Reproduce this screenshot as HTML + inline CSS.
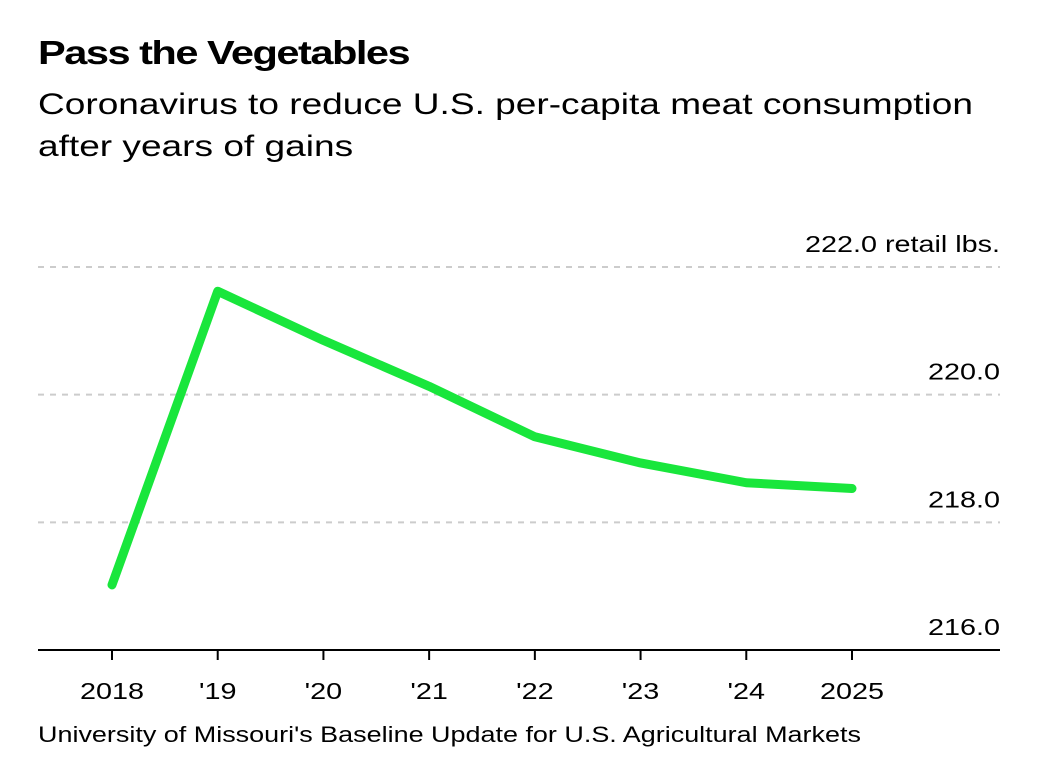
<!DOCTYPE html>
<html><head><meta charset="utf-8">
<style>
html,body{margin:0;padding:0;background:#fff;}
body{width:1049px;height:772px;position:relative;font-family:"Liberation Sans",Arial,sans-serif;color:#000;overflow:hidden;}
.title{position:absolute;left:38px;top:34px;font-size:33px;font-weight:bold;letter-spacing:-1.2px;transform:scaleX(1.26);transform-origin:left top;white-space:nowrap;}
.sub{position:absolute;left:38px;top:84px;font-size:30px;line-height:42px;transform:scaleX(1.235);transform-origin:left top;white-space:nowrap;}
.src{position:absolute;left:38px;top:722px;font-size:22px;transform:scaleX(1.225);transform-origin:left top;white-space:nowrap;}
svg{position:absolute;left:0;top:0;}
</style></head><body>
<div class="title">Pass the Vegetables</div>
<div class="sub">Coronavirus to reduce U.S. per-capita meat consumption<br>after years of gains</div>
<svg id="chart" width="1049" height="772"></svg>
<div class="src">University of Missouri's Baseline Update for U.S. Agricultural Markets</div>
<script>
const years = [2018, 2019, 2020, 2021, 2022, 2023, 2024, 2025];
const xLabels = ["2018", "'19", "'20", "'21", "'22", "'23", "'24", "2025"];
const consumption = [217.02, 221.62, 220.85, 220.13, 219.34, 218.93, 218.62, 218.53];
const yTicks = [216, 218, 220, 222];
const yTickLabels = ["216.0", "218.0", "220.0", "222.0 retail lbs."];

const NS = "http://www.w3.org/2000/svg";
const svg = document.getElementById('chart');
function x(yr){ return 112 + (yr - 2018) * (852 - 112) / 7; }
function y(v){ return 650 - (v - 216) * (650 - 267) / 6; }
function mk(tag, attrs){ const e = document.createElementNS(NS, tag); for (const k in attrs) e.setAttribute(k, attrs[k]); svg.appendChild(e); return e; }
const texts = [];

yTicks.forEach((t, i) => {
  if (t !== 216) {
    const g = mk('line', {x1:38, x2:1000, y1:y(t), y2:y(t), stroke:'#ccc', 'stroke-width':2, 'stroke-dasharray':'6,6'});
    
    
  }
  const tx = mk('text', {x:1000, y:y(t) - 15, 'text-anchor':'end', 'font-size':23, fill:'#000'});
  tx.textContent = yTickLabels[i];
  
  
  texts.push(tx);
});

const ax = mk('line', {x1:38, x2:1000, y1:650, y2:650, stroke:'#000', 'stroke-width':2});



years.forEach((yr, i) => {
  const tk = mk('line', {x1:x(yr), x2:x(yr), y1:650, y2:660, stroke:'#000', 'stroke-width':2});
  
  
  const tl = mk('text', {x:x(yr), y:699, 'text-anchor':'middle', 'font-size':23, fill:'#000'});
  tl.textContent = xLabels[i];
  
  
  texts.push(tl);
});

texts.forEach(t => {
  const w = t.getComputedTextLength();
  t.setAttribute('textLength', (w * 1.25).toFixed(1));
  t.setAttribute('lengthAdjust', 'spacingAndGlyphs');
});

const pts = years.map((yr, i) => x(yr) + ',' + y(consumption[i])).join(' ');
const ln = mk('polyline', {points:pts, fill:'none', stroke:'#19e63c', 'stroke-width':9, 'stroke-linejoin':'round', 'stroke-linecap':'round'});


</script>
</body></html>
